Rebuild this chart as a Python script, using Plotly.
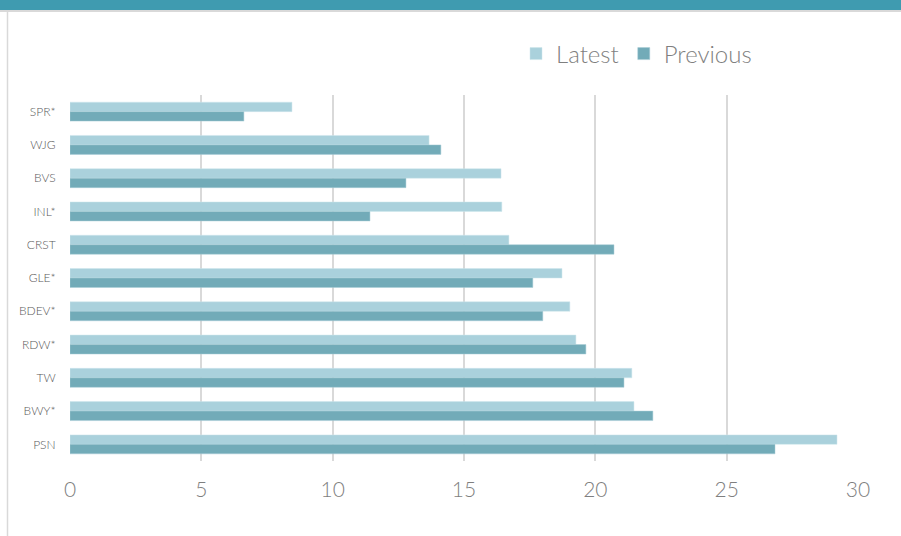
import plotly.graph_objects as go

categories = ["SPR*", "WJG", "BVS", "INL*", "CRST", "GLE*", "BDEV*", "RDW*", "TW", "BWY*", "PSN"]
latest = [8.45, 13.67, 16.41, 16.44, 16.71, 18.73, 19.03, 19.26, 21.39, 21.47, 29.2]
previous = [6.62, 14.12, 12.79, 11.42, 20.71, 17.62, 18.0, 19.64, 21.09, 22.19, 26.84]
x_ticks = [0, 5, 10, 15, 20, 25, 30]
title_text = "Operating margin (%) by period"

W, H = 901, 536
L, R, T, B = 70, 43, 95, 75
pw, ph = W - L - R, H - T - B

def px(xp):
    return (xp - L) / pw

def py(yp):
    return (H - B - yp) / ph

fig = go.Figure()
fig.add_trace(go.Bar(name="Latest", y=categories, x=latest, orientation="h",
                     marker=dict(color="#aad1dc", line=dict(color="#cfe6ec", width=0.5))))
fig.add_trace(go.Bar(name="Previous", y=categories, x=previous, orientation="h",
                     marker=dict(color="#72abb8", line=dict(color="#a9cdd6", width=0.5))))

fig.update_layout(
    width=W, height=H,
    margin=dict(l=L, r=R, t=T, b=B),
    paper_bgcolor="white", plot_bgcolor="white",
    barmode="group", bargap=0.43, bargroupgap=0,
    font=dict(family="Lato", color="#595959"),
    showlegend=True,
    legend=dict(orientation="h", x=px(516), xanchor="left", y=py(54), yanchor="middle",
                font=dict(family="Lato", size=24, color="#7f7f7f", weight=300),
                bgcolor="rgba(0,0,0,0)", itemwidth=30, tracegroupgap=0),
    xaxis=dict(range=[0, 30], tickvals=x_ticks, showgrid=True, gridcolor="#d9d9d9", gridwidth=2,
               zeroline=False, showline=False, ticks="outside", ticklen=10, tickcolor="rgba(0,0,0,0)",
               tickfont=dict(family="Lato", size=21, color="#7f7f7f", weight=300), fixedrange=True),
    yaxis=dict(categoryorder="array", categoryarray=categories, autorange="reversed",
               showgrid=False, zeroline=False, showline=False, ticks="outside", ticklen=11,
               tickcolor="rgba(0,0,0,0)",
               tickfont=dict(family="Lato", size=12, color="#595959", weight=300)),
    shapes=[
        dict(type="rect", xref="paper", yref="paper", x0=px(-2), x1=px(W + 2), y0=py(10), y1=py(-2),
             fillcolor="#3f9bb0", line=dict(width=0), layer="below"),
        dict(type="line", xref="paper", yref="paper", x0=px(0), x1=px(W + 2), y0=py(11), y1=py(11),
             line=dict(color="#d9d9d9", width=2)),
        dict(type="line", xref="paper", yref="paper", x0=px(7.5), x1=px(7.5), y0=py(11), y1=py(H + 2),
             line=dict(color="#d9d9d9", width=1.5)),
    ],
    annotations=[
        dict(text=title_text, xref="paper", yref="paper", x=px(165), y=py(3), xanchor="left",
             yanchor="bottom", showarrow=False, font=dict(family="Lato", size=20, color="white"))
    ],
)

fig.write_html("out.html")
